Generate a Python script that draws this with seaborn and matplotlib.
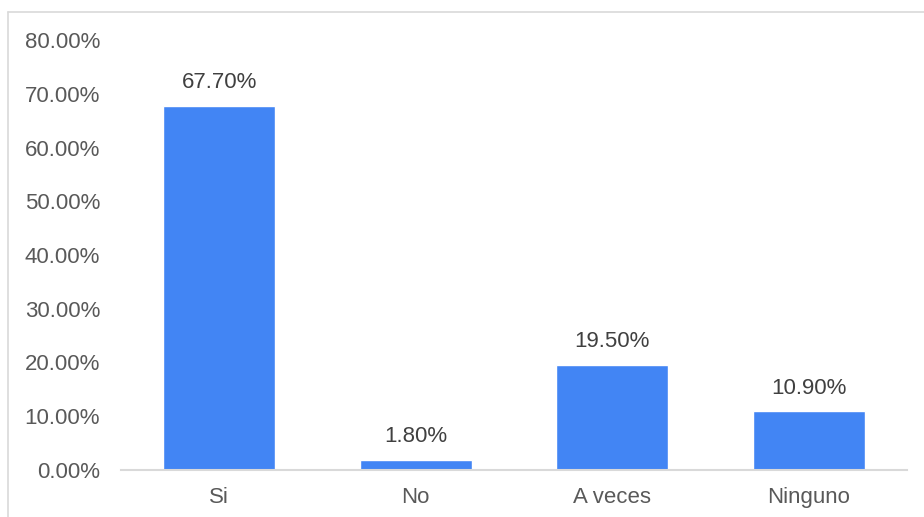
import matplotlib
matplotlib.use("Agg")
import matplotlib.pyplot as plt
from matplotlib.lines import Line2D
import seaborn as sns
import pandas as pd

categories = ["Si", "No", "A veces", "Ninguno"]
values = [67.70, 1.80, 19.50, 10.90]
y_ticks = [0, 10, 20, 30, 40, 50, 60, 70, 80]

sns.set_theme(style="white")
plt.rcParams["font.family"] = ["Liberation Sans", "DejaVu Sans"]

df = pd.DataFrame({"cat": categories, "val": values})

fig = plt.figure(figsize=(9.24, 5.17), dpi=100)
ax = fig.add_axes([121 / 924, 1 - 470 / 517, 786 / 924, 430 / 517])

sns.barplot(data=df, x="cat", y="val", color="#4285f4", saturation=1,
            width=0.57, ax=ax)

ax.set_ylim(0, 80)
ax.set_yticks(y_ticks)
ax.set_yticklabels([f"{t:.2f}%" for t in y_ticks])
ax.set_xlabel("")
ax.set_ylabel("")
ax.tick_params(axis="y", length=0, pad=15, labelsize=16, labelcolor="#595959")
ax.tick_params(axis="x", length=0, pad=12, labelsize=16, labelcolor="#595959")

for s in ["top", "right", "left"]:
    ax.spines[s].set_visible(False)
ax.spines["bottom"].set_color("#d9d9d9")
ax.spines["bottom"].set_linewidth(1.5)

for patch, v in zip(ax.patches, values):
    ax.text(patch.get_x() + patch.get_width() / 2, v + 2.4, f"{v:.2f}%",
            ha="center", va="bottom", fontsize=16, color="#404040")

# outer frame of the chart area
fig.add_artist(Line2D([8 / 924, 1], [1 - 12 / 517, 1 - 12 / 517],
                      color="#d9d9d9", lw=1.2, transform=fig.transFigure))
fig.add_artist(Line2D([8 / 924, 8 / 924], [0, 1 - 12 / 517],
                      color="#d9d9d9", lw=1.2, transform=fig.transFigure))

fig.savefig("out.png", dpi=100)
